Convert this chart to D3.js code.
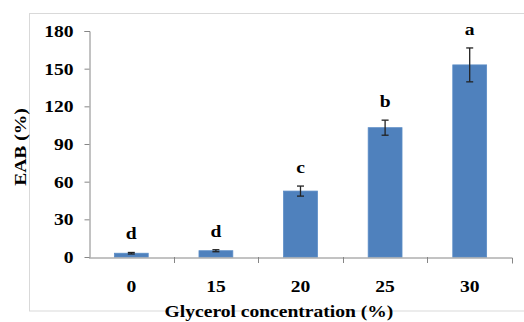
<!DOCTYPE html>
<html><head><meta charset="utf-8">
<script src="https://cdn.jsdelivr.net/npm/d3@7"></script>
<style>body{margin:0;background:#fff}svg{display:block}</style>
</head><body>
<script>
const categories = ["0","15","20","25","30"];
const values = [3, 5, 52.5, 103, 153];
const errors = [0.6, 0.8, 4, 6, 13.5];
const letters = ["d","d","c","b","a"];
const yTicks = [0,30,60,90,120,150,180];

(function(){
const W=524,H=322;
const svg=d3.select("body").append("svg").attr("width",W).attr("height",H);
svg.append("rect").attr("x",29.5).attr("y",13.5).attr("width",W).attr("height",297.5)
  .attr("fill","#fff").attr("stroke","#d9d9d9");

const pl=89,pr=512,pt=31,pb=257;
const x=d3.scaleBand().domain(categories).range([pl,pr]).paddingInner(0.6).paddingOuter(0.3);
const xb=d3.scaleBand().domain(categories).range([pl,pr]);
const y=d3.scaleLinear().domain([0,180]).range([pb,pt]);
const font="'Liberation Serif','Times New Roman',serif";
const axisColor="#868686";

// y axis
const ya=svg.append("g").attr("transform",`translate(${pl+0.5},0)`)
  .call(d3.axisLeft(y).tickValues(yTicks).tickSize(5).tickPadding(11));
ya.select(".domain").attr("stroke",axisColor).attr("d",`M-5,${pt+0.5}H0.5V${pb+0.5}`);
ya.selectAll(".tick line").attr("stroke",axisColor);
ya.selectAll("text").attr("font-family",font).attr("font-weight","bold").attr("font-size",17).attr("fill","#000");

// bars
svg.selectAll("rect.bar").data(values).join("rect").attr("class","bar")
  .attr("x",(d,i)=>x(categories[i])).attr("width",x.bandwidth())
  .attr("y",d=>y(d)).attr("height",d=>pb-y(d))
  .attr("fill","#4f81bd").attr("stroke","#5b8cc6").attr("stroke-width",0.8);

// x axis
const xa=svg.append("g").attr("transform",`translate(0,${pb+0.5})`)
  .call(d3.axisBottom(xb).tickSize(0).tickPadding(22));
xa.select(".domain").attr("stroke",axisColor).attr("d",`M${pl},0.5H${pr+0.5}V6`);
xa.selectAll("text").attr("font-family",font).attr("font-weight","bold").attr("font-size",17).attr("fill","#000");
svg.append("g").selectAll("line").data(categories.slice(1)).join("line")
  .attr("x1",d=>Math.round(xb(d))+0.5).attr("x2",d=>Math.round(xb(d))+0.5)
  .attr("y1",pb).attr("y2",pb+6).attr("stroke",axisColor);

// error bars
const eb=svg.append("g").attr("stroke","#222").attr("stroke-width",1.3);
values.forEach((v,i)=>{
  const cx=x(categories[i])+x.bandwidth()/2;
  const e=errors[i];
  eb.append("line").attr("x1",cx).attr("x2",cx).attr("y1",y(v+e)).attr("y2",y(v-e));
  eb.append("line").attr("x1",cx-3.5).attr("x2",cx+3.5).attr("y1",y(v+e)).attr("y2",y(v+e));
  eb.append("line").attr("x1",cx-3.5).attr("x2",cx+3.5).attr("y1",y(v-e)).attr("y2",y(v-e));
});

// letters
svg.selectAll("text.lt").data(letters).join("text").attr("class","lt")
  .attr("x",(d,i)=>x(categories[i])+x.bandwidth()/2)
  .attr("y",(d,i)=>y(values[i]+errors[i])-13)
  .attr("text-anchor","middle").attr("font-family",font).attr("font-weight","bold")
  .attr("font-size",17).text(d=>d);

// titles
svg.append("text").attr("x",279).attr("y",317).attr("text-anchor","middle")
  .attr("font-family",font).attr("font-weight","bold").attr("font-size",17).text("Glycerol concentration (%)");
svg.append("text").attr("transform","translate(26,147) rotate(-90)").attr("text-anchor","middle")
  .attr("font-family",font).attr("font-weight","bold").attr("font-size",17).text("EAB (%)");

// horizontal stretch of the serif text to match the reference rendering
svg.selectAll("text").each(function(){
  const w=this.getComputedTextLength();
  d3.select(this).attr("textLength",w*1.15).attr("lengthAdjust","spacingAndGlyphs");
});
})();
</script>
</body></html>
